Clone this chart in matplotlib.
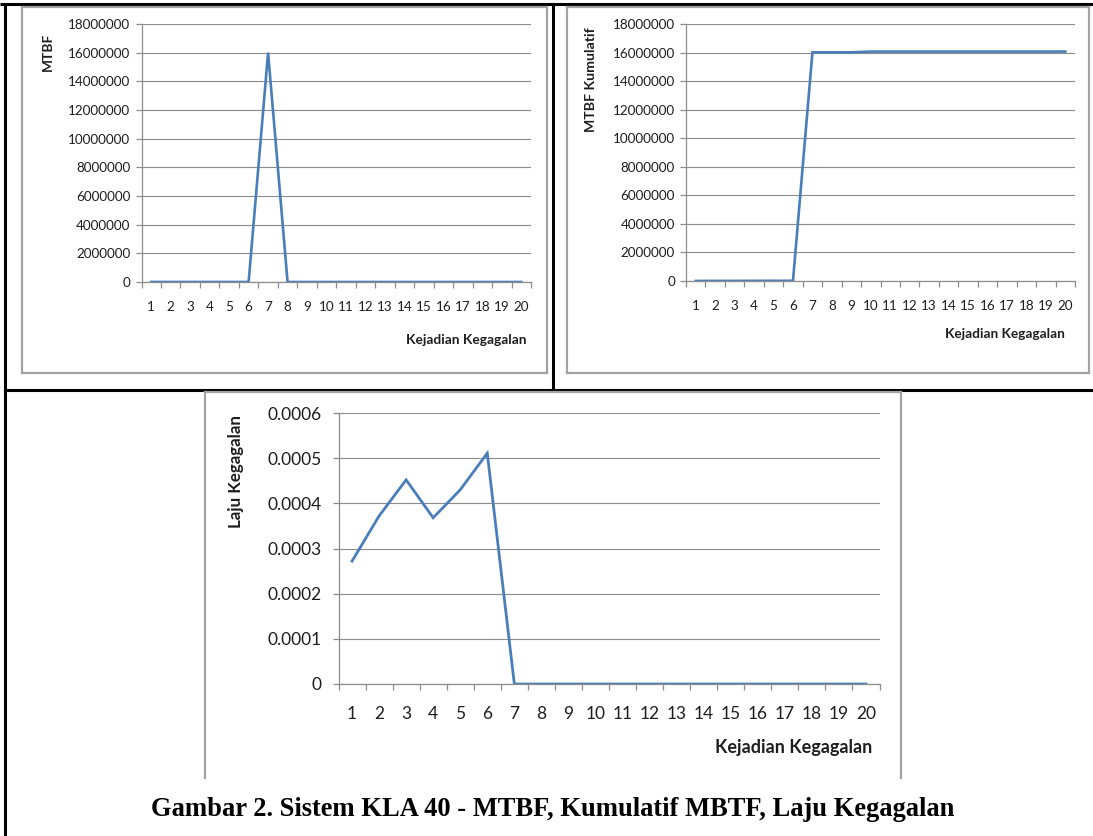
import matplotlib
matplotlib.use("Agg")
import matplotlib.pyplot as plt
from matplotlib.lines import Line2D
from matplotlib.ticker import FixedLocator, NullFormatter, FuncFormatter

# ---- data -------------------------------------------------------------
kejadian = list(range(1, 21))

mtbf = [3700, 2700, 2220, 2740, 2350, 1960, 16000000,
        0, 0, 0, 0, 0, 0, 0, 0, 0, 0, 0, 0, 0]

mtbf_kumulatif = [3700, 6400, 8620, 11360, 13710, 15670,
                  16015670, 16015670, 16015670,
                  16070000, 16070000, 16070000, 16070000, 16070000,
                  16070000, 16070000, 16070000, 16070000, 16070000, 16070000]

laju_kegagalan = [0.000272, 0.000372, 0.000452, 0.000368, 0.000430, 0.000511,
                  0.0, 0.0, 0.0, 0.0, 0.0, 0.0, 0.0, 0.0, 0.0, 0.0, 0.0, 0.0, 0.0, 0.0]

mtbf_ticks = [0, 2000000, 4000000, 6000000, 8000000, 10000000,
              12000000, 14000000, 16000000, 18000000]
laju_ticks = [0, 0.0001, 0.0002, 0.0003, 0.0004, 0.0005, 0.0006]
laju_labels = ["0", "0.0001", "0.0002", "0.0003", "0.0004", "0.0005", "0.0006"]

x_title = "Kejadian Kegagalan"
caption = "Gambar 2. Sistem KLA 40 - MTBF, Kumulatif MBTF, Laju Kegagalan"

# ---- figure -----------------------------------------------------------
W, H = 1093, 836
fig = plt.figure(figsize=(W / 100, H / 100), dpi=100)
fig.patch.set_facecolor("white")

SANS = ["Lato", "DejaVu Sans"]
LINE_C = "#4a7ebb"
GRID_C = "#8c8c8c"
TEXT_C = "#1e1e1e"


def fx(px):
    return px / W


def fy(py):
    return 1 - py / H


def add_axes(x0, y0, x1, y1):
    return fig.add_axes([fx(x0), fy(y1), fx(x1) - fx(x0), fy(y0) - fy(y1)])


def style_axes(ax, yticks, ylabels, fsize, xpad, ypad):
    n = len(kejadian)
    ax.set_xlim(0.5, n + 0.5)
    ax.set_ylim(yticks[0], yticks[-1])
    ax.set_facecolor("none")
    for s in ("top", "right"):
        ax.spines[s].set_visible(False)
    for s in ("left", "bottom"):
        ax.spines[s].set_color(GRID_C)
        ax.spines[s].set_linewidth(0.9)
    ax.set_yticks(yticks)
    ax.set_yticklabels(ylabels, fontfamily=SANS, fontsize=fsize, color=TEXT_C)
    ax.yaxis.grid(True, color=GRID_C, linewidth=0.8)
    ax.set_axisbelow(True)
    # category boundaries carry the tick marks, centres carry the labels
    ax.xaxis.set_major_locator(FixedLocator([i + 0.5 for i in range(0, n + 1)]))
    ax.xaxis.set_major_formatter(NullFormatter())
    ax.xaxis.set_minor_locator(FixedLocator(kejadian))
    ax.xaxis.set_minor_formatter(FuncFormatter(lambda v, p: f"{int(round(v))}"))
    ax.tick_params(axis="x", which="major", direction="out", length=4,
                   color=GRID_C, width=0.9)
    ax.tick_params(axis="x", which="minor", length=0, pad=xpad,
                   labelsize=fsize, labelcolor=TEXT_C)
    for lab in ax.get_xticklabels(minor=True):
        lab.set_fontfamily(SANS)
    ax.tick_params(axis="y", direction="out", length=4, color=GRID_C,
                   width=0.9, pad=ypad)


def gray_box(x0, y0, x1, y1, bottom=True):
    c = "#a3a3a3"
    pts = [((x0, y1), (x0, y0)), ((x0, y0), (x1, y0)), ((x1, y0), (x1, y1))]
    if bottom:
        pts.append(((x0, y1), (x1, y1)))
    for (a, b) in pts:
        fig.add_artist(Line2D([fx(a[0]), fx(b[0])], [fy(a[1]), fy(b[1])],
                              color=c, linewidth=1.6))


def black_line(x0, y0, x1, y1):
    fig.add_artist(Line2D([fx(x0), fx(x1)], [fy(y0), fy(y1)],
                          color="black", linewidth=2.2, solid_capstyle="butt"))


# table frame
black_line(0, 4, W, 4)
black_line(5, 3, 5, H)
black_line(5, 390, W, 390)
black_line(553, 3, 553, 390)

# chart boxes
gray_box(22, 7, 547, 373)
gray_box(567, 7, 1089, 373)
gray_box(205, 392, 901, 778, bottom=False)

mtbf_labels = [str(v) for v in mtbf_ticks]

# ---- MTBF -------------------------------------------------------------
ax1 = add_axes(141.5, 24, 531, 282)
style_axes(ax1, mtbf_ticks, mtbf_labels, 9.7, 14, 4)
ax1.plot(kejadian, mtbf, color=LINE_C, linewidth=1.9, solid_joinstyle="miter")
fig.text(fx(527), fy(340), x_title, ha="right", va="center",
         fontfamily=SANS, fontweight="bold", fontsize=9.9, color=TEXT_C)
fig.text(fx(48), fy(52), "MTBF", ha="center", va="center", rotation=90,
         fontfamily=SANS, fontweight="bold", fontsize=9.9, color=TEXT_C)

# ---- MTBF Kumulatif ---------------------------------------------------
ax2 = add_axes(686, 24, 1075, 281)
style_axes(ax2, mtbf_ticks, mtbf_labels, 9.7, 14, 4)
ax2.plot(kejadian, mtbf_kumulatif, color=LINE_C, linewidth=1.9,
         solid_joinstyle="miter")
fig.text(fx(1065), fy(334), x_title, ha="right", va="center",
         fontfamily=SANS, fontweight="bold", fontsize=9.8, color=TEXT_C)
fig.text(fx(591), fy(80), "MTBF Kumulatif", ha="center", va="center",
         rotation=90, fontfamily=SANS, fontweight="bold", fontsize=10.2,
         color=TEXT_C)

# ---- Laju Kegagalan ---------------------------------------------------
ax3 = add_axes(338.5, 413, 879.5, 684)
style_axes(ax3, laju_ticks, laju_labels, 12.5, 16, 8)
ax3.plot(kejadian, laju_kegagalan, color=LINE_C, linewidth=2.0,
         solid_joinstyle="miter")
fig.text(fx(872), fy(747), x_title, ha="right", va="center",
         fontfamily=SANS, fontweight="bold", fontsize=13.0, color=TEXT_C)
fig.text(fx(236), fy(471), "Laju Kegagalan", ha="center", va="center",
         rotation=90, fontfamily=SANS, fontweight="bold", fontsize=12.2,
         color=TEXT_C)

# ---- caption ----------------------------------------------------------
fig.text(fx(553), fy(809), caption, ha="center", va="center",
         fontfamily=["Liberation Serif", "DejaVu Serif"], fontweight="bold",
         fontsize=19.1, color="black")

fig.savefig("out.png", dpi=100, facecolor="white")
